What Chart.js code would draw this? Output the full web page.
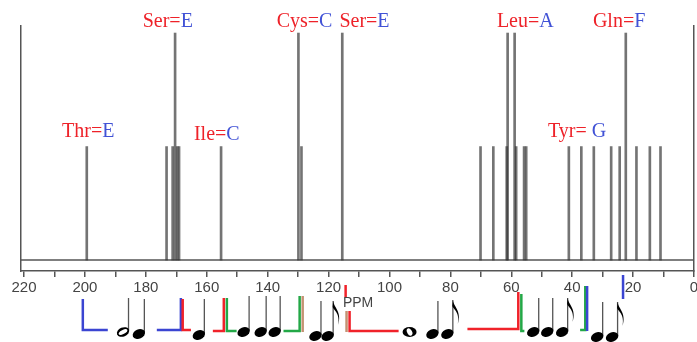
<!DOCTYPE html>
<html>
<head>
<meta charset="utf-8">
<script src="https://cdn.jsdelivr.net/npm/chart.js@4.4.1/dist/chart.umd.min.js"></script>
<style>
  html, body { margin: 0; padding: 0; background: #fff; }
  #wrap { width: 697px; height: 342px; }
</style>
</head>
<body>
<div id="wrap"><canvas id="spectrum"></canvas></div>
<script>
// 13C peaks: shift (ppm) and relative intensity
const peakPpm = [199.4, 173.2, 171.2, 170.4, 169.7, 169.1, 155.3, 129.9, 128.9, 115.5,
  70.1, 65.9, 61.5, 61.2, 58.9, 58.4, 55.8, 55.1, 41.1, 37.0, 32.9, 27.2, 24.4, 22.4,
  18.9, 14.5, 11.0];
const peakHeight = [0.5, 0.5, 0.5, 1, 0.5, 0.5, 0.5, 1, 0.5, 1,
  0.5, 0.5, 0.5, 1, 1, 0.5, 0.5, 0.5, 0.5, 0.5, 0.5, 0.5, 0.5, 1,
  0.5, 0.5, 0.5];

// residue = note labels
const labelName = ['Thr=', 'Ser=', 'Ile=', 'Cys=', 'Ser=', 'Leu=', 'Tyr= ', 'Gln='];
const labelNote = ['E', 'E', 'C', 'C', 'E', 'A', 'G', 'F'];
const labelPpm = [198.9, 172.8, 156.7, 127.9, 108.2, 55.4, 38.4, 24.6];
const labelLevel = [0.54, 1.026, 0.53, 1.026, 1.026, 1.026, 0.54, 1.026];

// axis: minor ticks every 10, labels every 20
const tickValues = [220, 210, 200, 190, 180, 170, 160, 150, 140, 130, 120, 110,
  100, 90, 80, 70, 60, 50, 40, 30, 20, 10, 0];
const tickLabels = [220, 200, 180, 160, 140, 120, 100, 80, 60, 40, 20, 0];

// score under the axis (ppm along x, offsets in px below the axis box)
const noteKind = ['half', 'quarter', 'quarter', 'quarter', 'quarter', 'quarter', 'quarter', 'eighth',
  'whole', 'quarter', 'eighth', 'quarter', 'quarter', 'eighth', 'quarter', 'eighth'];
const notePpm = [187.5, 182.3, 162.6, 147.9, 142.3, 137.7, 124.3, 120.3,
  93.4, 85.9, 81.0, 52.8, 48.2, 43.3, 31.8, 26.9];
const noteHead = [61, 63, 64, 61, 61, 61, 65, 65, 61, 63, 63, 61, 61, 61, 66, 66];
const noteStem = [27, 28, 28, 25, 25, 25, 30, 30, 0, 30, 29, 27, 27, 27, 31, 31];

const bracketColor = ['#3b45d2', '#3b45d2', '#f0222a', '#f0222a', '#23a847', '#23a847', '#c39272',
  '#f0222a', '#c39272', '#f0222a', '#f0222a', '#23a847', '#23a847', '#3b45d2', '#3b45d2'];
const bracketPath = [
  [[200.7, 28], [200.7, 59], [192.5, 59]],
  [[176.4, 59], [168.5, 59], [168.5, 27]],
  [[167.9, 28], [167.9, 59], [165.2, 59]],
  [[158.0, 60], [154.4, 60], [154.4, 27]],
  [[153.4, 27], [153.4, 60], [150.2, 60]],
  [[134.8, 60], [129.5, 60], [129.5, 25]],
  [[128.5, 25], [128.5, 61]],
  [[114.4, 14], [114.4, 26]],
  [[114.1, 40], [114.1, 61]],
  [[113.1, 40], [113.1, 60], [97.0, 60]],
  [[74.4, 58], [57.7, 58], [57.7, 21]],
  [[56.7, 23], [56.7, 60], [55.7, 60]],
  [[37.4, 59], [35.7, 59], [35.7, 15]],
  [[35.1, 15], [35.1, 60]],
  [[23.3, 4], [23.3, 28]]
];

const RED = '#ee2229';
const BLUE = '#4152d6';

const peakData = peakPpm.map((p, i) => ({ x: p, y: peakHeight[i] }));

// labels above the peaks
const labelPlugin = {
  id: 'residueLabels',
  afterDatasetsDraw(chart) {
    const ctx = chart.ctx;
    const xs = chart.scales.x, ys = chart.scales.y;
    ctx.save();
    ctx.font = '20px "Liberation Serif", "Times New Roman", serif';
    ctx.textBaseline = 'alphabetic';
    ctx.textAlign = 'left';
    labelName.forEach((name, i) => {
      const w1 = ctx.measureText(name).width;
      const w2 = ctx.measureText(labelNote[i]).width;
      const cx = xs.getPixelForValue(labelPpm[i]);
      const y = ys.getPixelForValue(labelLevel[i]);
      const x0 = cx - (w1 + w2) / 2;
      ctx.fillStyle = RED;
      ctx.fillText(name, x0, y);
      ctx.fillStyle = BLUE;
      ctx.fillText(labelNote[i], x0 + w1, y);
    });
    ctx.restore();
  }
};

// brackets and notes below the axis
const scorePlugin = {
  id: 'score',
  afterDraw(chart) {
    const ctx = chart.ctx;
    const xs = chart.scales.x;
    const base = chart.chartArea.bottom;
    ctx.save();
    ctx.lineCap = 'butt';
    bracketPath.forEach((path, i) => {
      ctx.strokeStyle = bracketColor[i];
      ctx.lineWidth = 2.5;
      ctx.beginPath();
      path.forEach((pt, j) => {
        const px = xs.getPixelForValue(pt[0]);
        const py = base + pt[1];
        if (j === 0) ctx.moveTo(px, py); else ctx.lineTo(px, py);
      });
      ctx.stroke();
    });

    ctx.font = '14px "Liberation Sans", Arial, sans-serif';
    ctx.fillStyle = '#444';
    ctx.textAlign = 'center';
    ctx.textBaseline = 'middle';
    ctx.fillText('PPM', xs.getPixelForValue(110.3), base + 32);

    noteKind.forEach((kind, i) => {
      const hx = xs.getPixelForValue(notePpm[i]);
      const hy = base + noteHead[i];
      if (kind === 'whole') {
        ctx.fillStyle = '#000';
        ctx.beginPath();
        ctx.ellipse(hx, hy, 7, 5, 0, 0, Math.PI * 2);
        ctx.fill();
        ctx.fillStyle = '#fff';
        ctx.beginPath();
        ctx.ellipse(hx, hy, 2.4, 3.9, -0.5, 0, Math.PI * 2);
        ctx.fill();
        return;
      }
      const sx = hx + 5.5;
      const top = base + noteStem[i];
      ctx.strokeStyle = '#555';
      ctx.lineWidth = 1.3;
      ctx.beginPath();
      ctx.moveTo(sx, hy - 1);
      ctx.lineTo(sx, top);
      ctx.stroke();
      if (kind === 'half') {
        ctx.fillStyle = '#000';
        ctx.beginPath();
        ctx.ellipse(hx, hy, 6.4, 4.5, -0.4, 0, Math.PI * 2);
        ctx.fill();
        ctx.fillStyle = '#fff';
        ctx.beginPath();
        ctx.ellipse(hx, hy, 4.8, 2.0, -0.5, 0, Math.PI * 2);
        ctx.fill();
      } else {
        ctx.fillStyle = '#000';
        ctx.beginPath();
        ctx.ellipse(hx, hy, 6.4, 4.7, -0.4, 0, Math.PI * 2);
        ctx.fill();
      }
      if (kind === 'eighth') {
        ctx.fillStyle = '#000';
        ctx.beginPath();
        ctx.moveTo(sx, top);
        ctx.bezierCurveTo(sx + 1, top + 7, sx + 9, top + 11, sx + 5, top + 24);
        ctx.bezierCurveTo(sx + 7, top + 12, sx + 1, top + 10, sx - 0.5, top + 6);
        ctx.closePath();
        ctx.fill();
      }
    });
    ctx.restore();
  }
};

new Chart(document.getElementById('spectrum'), {
  type: 'bar',
  data: {
    datasets: [{
      data: peakData,
      backgroundColor: 'rgba(50,50,50,0.68)',
      barThickness: 2,
      borderWidth: 0
    }, {
      type: 'line',
      data: [{ x: 221, y: 0 }, { x: 0, y: 0 }],
      borderColor: '#555',
      borderWidth: 1.5,
      pointRadius: 0
    }]
  },
  options: {
    responsive: true,
    maintainAspectRatio: false,
    animation: false,
    layout: { padding: { left: 21, right: 3, top: 26, bottom: 43 } },
    plugins: {
      legend: { display: false },
      tooltip: { enabled: false }
    },
    scales: {
      x: {
        type: 'linear',
        reverse: true,
        min: 0,
        max: 221,
        offset: false,
        grid: { offset: false, drawOnChartArea: false, drawTicks: true, tickLength: 6, color: '#555', lineWidth: 1.5 },
        border: { color: '#555', width: 1.5 },
        ticks: {
          autoSkip: false,
          maxRotation: 0,
          padding: 2,
          color: '#444',
          font: { family: '"Liberation Sans", Arial, sans-serif', size: 15 },
          callback: (v) => tickLabels.includes(v) ? String(v) : ''
        },
        afterBuildTicks: (scale) => { scale.ticks = tickValues.map(v => ({ value: v })); },
        afterFit: (scale) => { scale.paddingLeft = 0; scale.paddingRight = 0; }
      },
      y: {
        min: -0.048,
        max: 1.031,
        ticks: { display: false },
        grid: { display: false, drawTicks: false },
        border: { color: '#555', width: 1.5 }
      },
      y2: {
        position: 'right',
        min: -0.048,
        max: 1.031,
        ticks: { display: false },
        grid: { display: false, drawTicks: false },
        border: { color: '#555', width: 1.5 }
      }
    }
  },
  plugins: [labelPlugin, scorePlugin]
});
</script>
</body>
</html>
